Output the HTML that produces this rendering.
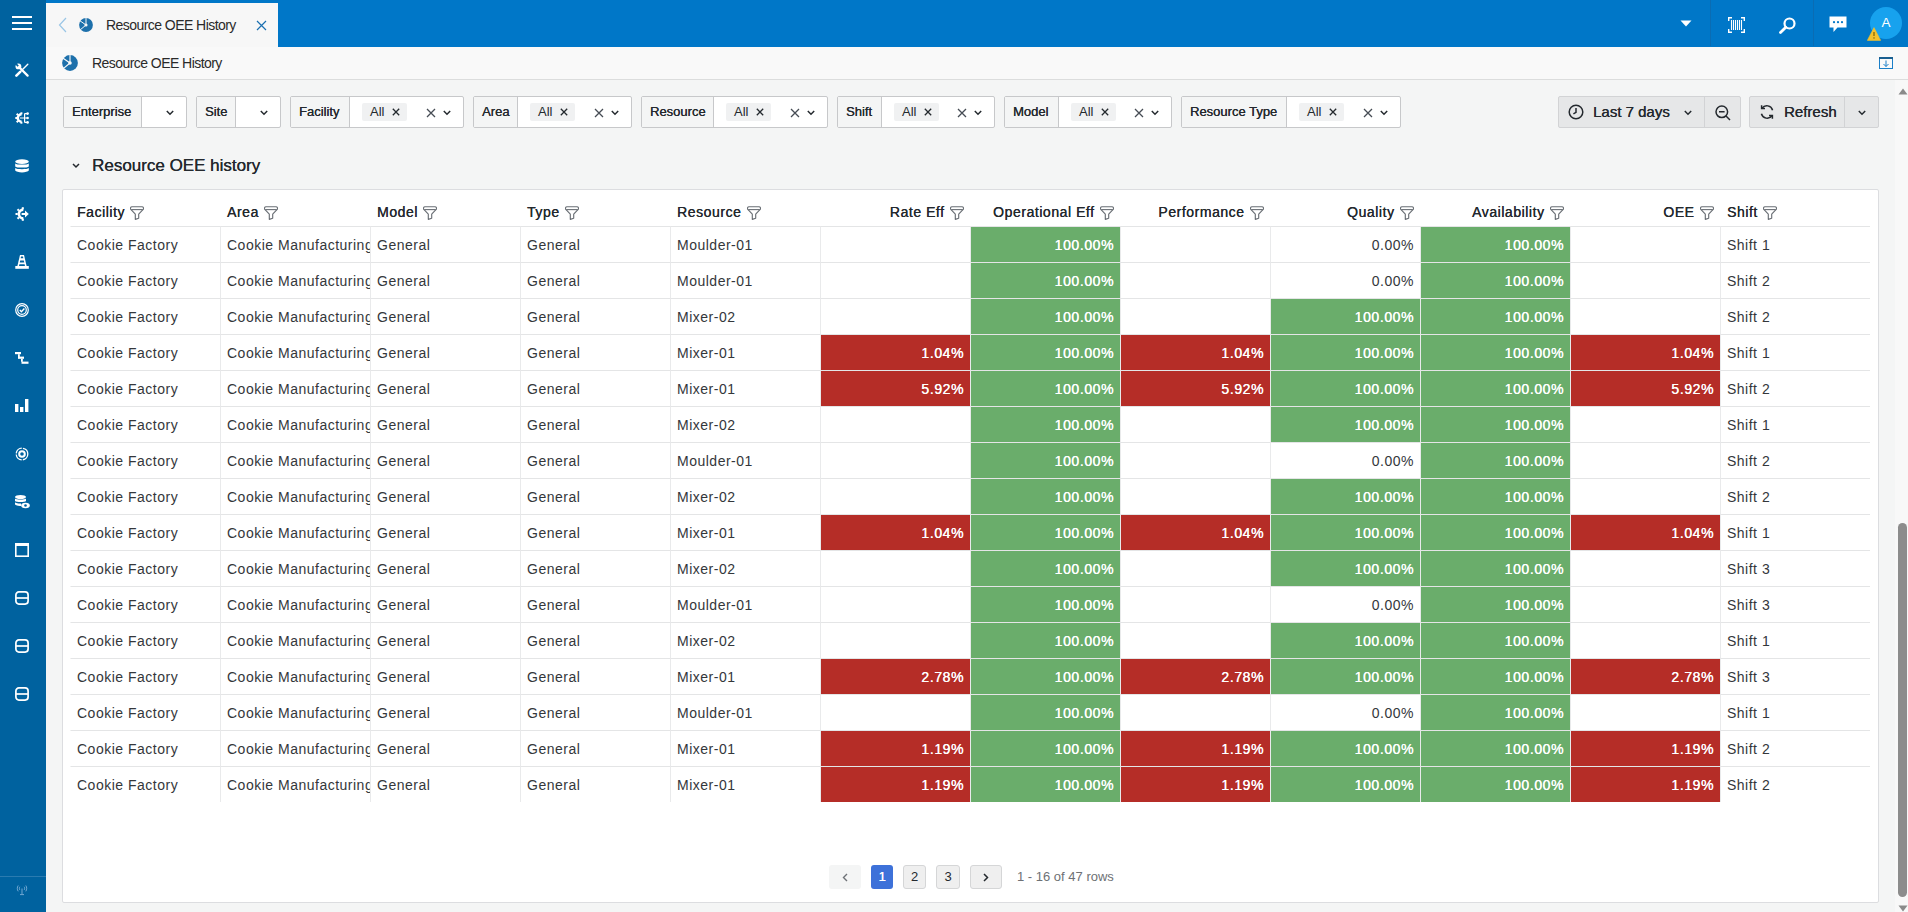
<!DOCTYPE html>
<html><head><meta charset="utf-8">
<style>
*{box-sizing:border-box;}
html,body{margin:0;padding:0;}
body{width:1908px;height:912px;overflow:hidden;position:relative;background:#f4f5f5;font-family:"Liberation Sans",sans-serif;color:#24292e;}
.abs{position:absolute;}
svg{display:block;}
#topbar{left:0;top:0;width:1908px;height:47px;background:#0077c8;}
#sidebar{left:0;top:0;width:46px;height:912px;background:#00629f;}
#tab{left:46px;top:3px;width:232px;height:44px;background:#f7f7f7;}
#crumb{left:46px;top:47px;width:1862px;height:33px;background:#f9f9f9;border-bottom:1px solid #dcdddd;}
#vscroll{left:1895px;top:80px;width:13px;height:832px;background:#f8f8f8;}
.ic{position:absolute;}
.txt{position:absolute;white-space:nowrap;}
/* filters */
.fbox{position:absolute;top:96px;height:32px;border:1px solid #c7c8ca;border-radius:2px;background:#fff;}
.flab{position:absolute;left:0;top:0;height:30px;background:#f4f5f5;border-right:1px solid #c7c8ca;font-size:13px;line-height:29px;padding:0 0 0 8px;white-space:nowrap;color:#24292e;text-shadow:0.15px 0 0 #24292e;}
.chip{position:absolute;top:6px;width:45px;height:18px;background:#f0f1f2;border-radius:2px;font-size:13px;line-height:18px;padding-left:8px;color:#24292e;}
.btn{position:absolute;top:96px;height:32px;background:#e6e7e8;border:1px solid #d2d3d5;border-radius:2px;}
#panel{left:62px;top:189px;width:1817px;height:714px;background:#fff;border:1px solid #dcdde0;border-radius:2px;}
#tbl{left:70px;top:190px;width:1800px;height:612px;}
.th{position:absolute;top:0;width:150px;height:36px;padding:0 6px 0 7px;font-size:14px;line-height:44px;letter-spacing:0.55px;text-shadow:0.2px 0 0 #24292e;color:#24292e;white-space:nowrap;display:flex;}
.th.r{justify-content:flex-end;}
.th .fil{margin:16px 0 0 5.5px;}
.td{position:absolute;width:150px;height:36px;border-top:1px solid #e4e5e6;border-left:1px solid #e9eaeb;padding:0 6px;font-size:14px;line-height:37px;letter-spacing:0.5px;color:#34373b;white-space:nowrap;overflow:hidden;}
.td.r{text-align:right;}
.td.c0{border-left-color:transparent;}
.td.g{background:#6aad6b;color:#fff;letter-spacing:0.6px;text-shadow:0.3px 0 0 #fff;}
.td.rd{background:#b52d27;color:#fff;letter-spacing:0.6px;text-shadow:0.3px 0 0 #fff;}
</style></head>
<body>
<div id="topbar" class="abs"></div>
<div id="sidebar" class="abs"></div>
<!-- sidebar icons -->
<svg class="ic" style="left:12px;top:16px" width="20" height="15" viewBox="0 0 20 15"><rect x="0" y="0" width="20" height="2" fill="#fff"/><rect x="0" y="6" width="20" height="2" fill="#fff"/><rect x="0" y="12" width="20" height="2" fill="#fff"/></svg>
<svg class="ic" style="left:15px;top:63px" width="14" height="14" viewBox="0 0 14 14" fill="none" stroke="#fff" stroke-linecap="round"><path d="M4 4L12.6 12.6" stroke-width="2.2"/><circle cx="3.4" cy="3.4" r="2.9" fill="#fff" stroke="none"/><path d="M0 0L3.2 3.2" stroke="#00629f" stroke-width="1.7" stroke-linecap="butt"/><path d="M1.4 12.6L5.2 8.8" stroke-width="2.6"/><path d="M5.5 8.5L12.8 1.3" stroke-width="1.4"/></svg>
<svg class="ic" style="left:15px;top:112px" width="14" height="12" viewBox="0 0 14 12"><path d="M6.6 2.2A3.8 3.8 0 0 0 6.6 9.8" fill="none" stroke="#fff" stroke-width="2.6"/><rect x="5.4" y="0.3" width="2" height="2" fill="#fff"/><rect x="5.4" y="9.7" width="2" height="2" fill="#fff"/><rect x="0.3" y="5" width="2" height="2" fill="#fff"/><rect x="1.4" y="1.4" width="2" height="2" fill="#fff" transform="rotate(45 2.4 2.4)"/><rect x="1.4" y="8.6" width="2" height="2" fill="#fff" transform="rotate(45 2.4 9.6)"/><path d="M5 6H12.5M9.6 1.6V10.4M9.6 1.6H12.5M9.6 10.4H12.5" fill="none" stroke="#fff" stroke-width="1.2"/><circle cx="12.6" cy="1.6" r="1.3" fill="#fff"/><circle cx="12.6" cy="6" r="1.3" fill="#fff"/><circle cx="12.6" cy="10.4" r="1.3" fill="#fff"/></svg>
<svg class="ic" style="left:15px;top:159px" width="14" height="14" viewBox="0 0 14 14" fill="#fff"><ellipse cx="7" cy="2.6" rx="6.8" ry="2.4"/><path d="M0.2 4.4c1.2 1.6 12.4 1.6 13.6 0v3c-1.2 1.6-12.4 1.6-13.6 0z"/><path d="M0.2 9c1.2 1.6 12.4 1.6 13.6 0v2.6c-1.2 2.4-12.4 2.4-13.6 0z"/></svg>
<svg class="ic" style="left:15px;top:207px" width="14" height="14" viewBox="0 0 14 14"><path d="M8.3 2.6A4.4 4.4 0 0 0 8.3 11.4" fill="none" stroke="#fff" stroke-width="2.6"/><rect x="6.8" y="0.2" width="2" height="2.2" fill="#fff"/><rect x="6.8" y="11.6" width="2" height="2.2" fill="#fff"/><rect x="0.5" y="6" width="2.2" height="2" fill="#fff"/><rect x="2.2" y="1.9" width="2" height="2" fill="#fff" transform="rotate(45 3.2 2.9)"/><rect x="2.2" y="10.1" width="2" height="2" fill="#fff" transform="rotate(45 3.2 11.1)"/><path d="M6.6 7H11" stroke="#fff" stroke-width="2"/><path d="M10 3.6L13.8 7 10 10.4z" fill="#fff"/></svg>
<svg class="ic" style="left:15px;top:255px" width="14" height="14" viewBox="0 0 14 14"><path d="M5 0H9L11.6 11H2.4z" fill="#fff"/><rect x="0.3" y="11" width="13.5" height="2.8" fill="#fff"/><path d="M6 1.6H8L8.35 3.2H5.65zM5.2 5.4H8.8L9.25 7.4H4.75zM4.4 9.2H9.6L10 11H4z" fill="#00629f"/></svg>
<svg class="ic" style="left:15px;top:303px" width="14" height="14" viewBox="0 0 14 14" fill="none" stroke="#fff"><circle cx="7" cy="7" r="6.3" stroke-width="1.2"/><circle cx="7" cy="7" r="4.3" stroke-width="1.2"/><path d="M4.8 7l1.6 1.7 3-3.2" stroke-width="1.4"/></svg>
<svg class="ic" style="left:15px;top:352px" width="14" height="12" viewBox="0 0 14 12" fill="#fff"><rect x="0" y="0" width="6" height="2.2"/><rect x="3" y="2.2" width="1.8" height="4"/><rect x="3" y="4.6" width="6" height="2.2"/><rect x="6" y="6.8" width="1.8" height="3"/><rect x="6.5" y="9.6" width="7" height="2.2"/></svg>
<svg class="ic" style="left:15px;top:399px" width="14" height="13" viewBox="0 0 14 13" fill="#fff"><rect x="0" y="5" width="3.4" height="8"/><rect x="5" y="8" width="3.4" height="5"/><rect x="10" y="0" width="3.4" height="13"/></svg>
<svg class="ic" style="left:15px;top:447px" width="14" height="14" viewBox="0 0 14 14" fill="none" stroke="#fff"><circle cx="7" cy="7" r="5.8" stroke-width="1.3" stroke-dasharray="8 1.2"/><circle cx="7" cy="7" r="2.8" stroke-width="2"/></svg>
<svg class="ic" style="left:15px;top:495px" width="15" height="14" viewBox="0 0 15 14" fill="#fff"><ellipse cx="5.5" cy="2" rx="5.5" ry="2"/><path d="M0 3.4c1 1.3 10 1.3 11 0v2.5c-1 1.3-10 1.3-11 0z"/><path d="M0 7.2c1 1.3 6 1.3 6 1.3v2.6c-1 0-5-.3-6-1.5z"/><ellipse cx="10.5" cy="10.5" rx="4.3" ry="2.8" fill="#fff"/><circle cx="10.5" cy="10.5" r="1.3" fill="#00629f"/></svg>
<svg class="ic" style="left:15px;top:543px" width="14" height="14" viewBox="0 0 14 14"><rect x="0.8" y="0.8" width="12.4" height="12.4" fill="none" stroke="#fff" stroke-width="1.6"/><rect x="0" y="0" width="14" height="3" fill="#fff"/></svg>
<svg class="ic" style="left:15px;top:591px" width="14" height="14" viewBox="0 0 14 14" fill="none" stroke="#fff" stroke-width="1.7"><rect x="0.9" y="0.9" width="12.2" height="12.2" rx="3"/><path d="M1 7h12"/></svg>
<svg class="ic" style="left:15px;top:639px" width="14" height="14" viewBox="0 0 14 14" fill="none" stroke="#fff" stroke-width="1.7"><rect x="0.9" y="0.9" width="12.2" height="12.2" rx="3"/><path d="M1 7h12"/></svg>
<svg class="ic" style="left:15px;top:687px" width="14" height="14" viewBox="0 0 14 14" fill="none" stroke="#fff" stroke-width="1.7"><rect x="0.9" y="0.9" width="12.2" height="12.2" rx="3"/><path d="M1 7h12"/></svg>
<div class="abs" style="left:0;top:876px;width:46px;height:1px;background:#2a7bb0"></div>
<svg class="ic" style="left:16px;top:884px" width="12" height="12" viewBox="0 0 12 12" fill="none" stroke="#7fb0d8" stroke-width="0.9"><path d="M2.2 1.5c-1.2 1.8-1.2 4 0 5.8M9.8 1.5c1.2 1.8 1.2 4 0 5.8M3.8 2.8c-.6 1-.6 2.2 0 3.2M8.2 2.8c.6 1 .6 2.2 0 3.2M6 4.5v5.5M4 10.6h4" /></svg>
<!-- tab -->
<div id="tab" class="abs"></div>
<svg class="ic" style="left:58px;top:17px" width="9" height="16" viewBox="0 0 9 16"><path d="M8 1L1.5 8 8 15" fill="none" stroke="#9ac6e6" stroke-width="1.2"/></svg>
<svg class="ic" style="left:79px;top:18px" width="14" height="14" viewBox="0 0 14 14"><circle cx="7.0" cy="7.0" r="6.90" fill="#1d70ab"/><path d="M7.00 7.00L7.00 -0.40M7.00 7.00L0.94 2.76M7.00 7.00L1.33 11.76" stroke="#f7f7f7" stroke-width="1.00"/><circle cx="7.0" cy="7.0" r="1.56" fill="#f7f7f7"/></svg>
<div class="txt" style="left:106px;top:16px;font-size:14px;line-height:18px;letter-spacing:-0.55px;color:#2a2a2a">Resource OEE History</div>
<svg class="ic" style="left:256px;top:20px" width="11" height="11" viewBox="0 0 11 11"><path d="M1 1l9 9M10 1L1 10" stroke="#1a6fb0" stroke-width="1.2"/></svg>
<!-- topbar right icons -->
<svg class="ic" style="left:1680px;top:20px" width="12" height="7" viewBox="0 0 12 7"><path d="M0.5 0.5h11L6 6.5z" fill="#fff"/></svg>
<div class="abs" style="left:1710px;top:0;width:1px;height:46px;background:#0a6cb3"></div>
<svg class="ic" style="left:1728px;top:17px" width="17" height="16" viewBox="0 0 17 16" fill="none" stroke="#fff"><path d="M0.7 4V0.7H4M13 0.7h3.3V4M16.3 12v3.3H13M4 15.3H0.7V12" stroke-width="1.4"/><path d="M3.5 3v10M5.5 3v10M7.5 3v10M9.5 3v10M11.5 3v10M13.5 3v10" stroke-width="1.1"/></svg>
<svg class="ic" style="left:1779px;top:17px" width="17" height="17" viewBox="0 0 17 17" fill="none" stroke="#fff"><circle cx="10.5" cy="6.5" r="5" stroke-width="2.2"/><path d="M6.8 10.2L1.5 15.5" stroke-width="2.8" stroke-linecap="round"/></svg>
<div class="abs" style="left:1813px;top:0;width:1px;height:46px;background:#0a6cb3"></div>
<svg class="ic" style="left:1829px;top:16px" width="18" height="17" viewBox="0 0 18 17"><path d="M0.5 0.5h17v11h-9l-4 4.5v-4.5h-4z" fill="#fff"/><circle cx="5" cy="6.2" r="1.1" fill="#0077c8"/><circle cx="9" cy="6.2" r="1.1" fill="#0077c8"/><circle cx="13" cy="6.2" r="1.1" fill="#0077c8"/></svg>
<div class="abs" style="left:1870px;top:7px;width:32px;height:32px;border-radius:50%;background:#17a2ee"></div>
<div class="txt" style="left:1870px;top:15px;width:32px;text-align:center;font-size:13.5px;line-height:16px;color:#fff">A</div>
<svg class="ic" style="left:1867px;top:27px" width="14" height="14" viewBox="0 0 14 14"><path d="M7 0.6L13.7 13.4H0.3z" fill="#f2c12e" stroke="#f2c12e" stroke-width="0.6" stroke-linejoin="round"/><path d="M7 5v4" stroke="#7a6000" stroke-width="1.2"/><rect x="6.4" y="10.3" width="1.2" height="1.3" fill="#7a6000"/></svg>
<!-- breadcrumb -->
<div id="crumb" class="abs"></div>
<svg class="ic" style="left:62px;top:55px" width="16" height="16" viewBox="0 0 16 16"><circle cx="8.0" cy="8.0" r="7.90" fill="#1d70ab"/><path d="M8.00 8.00L8.00 -0.40M8.00 8.00L1.12 3.18M8.00 8.00L1.57 13.40" stroke="#f9f9f9" stroke-width="1.14"/><circle cx="8.0" cy="8.0" r="1.78" fill="#f9f9f9"/></svg>
<div class="txt" style="left:92px;top:54px;font-size:14px;line-height:18px;letter-spacing:-0.55px;color:#2a2a2a">Resource OEE History</div>
<svg class="ic" style="left:1879px;top:57px" width="14" height="12" viewBox="0 0 14 12"><rect x="0.5" y="0.5" width="13" height="11" fill="none" stroke="#1a7fc8" stroke-width="1"/><rect x="0" y="0" width="14" height="2" fill="#1a5f90"/><path d="M7 3.5v6M4.5 7l2.5 2.5L9.5 7" fill="none" stroke="#1a7fc8" stroke-width="1"/></svg>
<div id="vscroll" class="abs"></div>
<svg class="ic" style="left:1898px;top:88px" width="10" height="7" viewBox="0 0 10 7"><path d="M5 0.5L9.5 6.5H0.5z" fill="#8a8a8a"/></svg>
<div class="abs" style="left:1898px;top:523px;width:9px;height:374px;border-radius:4.5px;background:#8c8c8c"></div>
<svg class="ic" style="left:1898px;top:905px" width="10" height="7" viewBox="0 0 10 7"><path d="M0.5 0.5h9L5 6.5z" fill="#8a8a8a"/></svg>
<!-- panel -->
<svg class="ic" style="left:72px;top:163px" width="8" height="6" viewBox="0 0 8 6"><path d="M1 1l3 3 3-3" fill="none" stroke="#24292e" stroke-width="1.5"/></svg>
<div class="txt" style="left:92px;top:156px;font-size:17px;line-height:20px;color:#24292e;text-shadow:0.15px 0 0 #24292e">Resource OEE history</div>
<div id="panel" class="abs"></div>
<div class="fbox" style="left:63px;width:124px"><div class="flab" style="width:78px">Enterprise</div>
</div>
<svg class="ic" style="left:166px;top:110px" width="8" height="6" viewBox="0 0 8 6"><path d="M0.8 1L4 4.2 7.2 1" fill="none" stroke="#24292e" stroke-width="1.5"/></svg>
<div class="fbox" style="left:196px;width:85px"><div class="flab" style="width:39px">Site</div>
</div>
<svg class="ic" style="left:260px;top:110px" width="8" height="6" viewBox="0 0 8 6"><path d="M0.8 1L4 4.2 7.2 1" fill="none" stroke="#24292e" stroke-width="1.5"/></svg>
<div class="fbox" style="left:290px;width:174px"><div class="flab" style="width:59px">Facility</div>
<div class="chip" style="left:71px">All</div>
</div>
<svg class="ic" style="left:392px;top:108px" width="8" height="8" viewBox="0 0 8 8"><path d="M0.8 0.8l6.4 6.4M7.2 0.8L0.8 7.2" stroke="#24292e" stroke-width="1.3"/></svg>
<svg class="ic" style="left:426px;top:108px" width="10" height="10" viewBox="0 0 10 10"><path d="M1 1l8 8M9 1L1 9" stroke="#464c54" stroke-width="1.3"/></svg>
<svg class="ic" style="left:443px;top:110px" width="8" height="6" viewBox="0 0 8 6"><path d="M0.8 1L4 4.2 7.2 1" fill="none" stroke="#24292e" stroke-width="1.5"/></svg>
<div class="fbox" style="left:473px;width:159px"><div class="flab" style="width:44px">Area</div>
<div class="chip" style="left:56px">All</div>
</div>
<svg class="ic" style="left:560px;top:108px" width="8" height="8" viewBox="0 0 8 8"><path d="M0.8 0.8l6.4 6.4M7.2 0.8L0.8 7.2" stroke="#24292e" stroke-width="1.3"/></svg>
<svg class="ic" style="left:594px;top:108px" width="10" height="10" viewBox="0 0 10 10"><path d="M1 1l8 8M9 1L1 9" stroke="#464c54" stroke-width="1.3"/></svg>
<svg class="ic" style="left:611px;top:110px" width="8" height="6" viewBox="0 0 8 6"><path d="M0.8 1L4 4.2 7.2 1" fill="none" stroke="#24292e" stroke-width="1.5"/></svg>
<div class="fbox" style="left:641px;width:187px"><div class="flab" style="width:72px">Resource</div>
<div class="chip" style="left:84px">All</div>
</div>
<svg class="ic" style="left:756px;top:108px" width="8" height="8" viewBox="0 0 8 8"><path d="M0.8 0.8l6.4 6.4M7.2 0.8L0.8 7.2" stroke="#24292e" stroke-width="1.3"/></svg>
<svg class="ic" style="left:790px;top:108px" width="10" height="10" viewBox="0 0 10 10"><path d="M1 1l8 8M9 1L1 9" stroke="#464c54" stroke-width="1.3"/></svg>
<svg class="ic" style="left:807px;top:110px" width="8" height="6" viewBox="0 0 8 6"><path d="M0.8 1L4 4.2 7.2 1" fill="none" stroke="#24292e" stroke-width="1.5"/></svg>
<div class="fbox" style="left:837px;width:158px"><div class="flab" style="width:44px">Shift</div>
<div class="chip" style="left:56px">All</div>
</div>
<svg class="ic" style="left:924px;top:108px" width="8" height="8" viewBox="0 0 8 8"><path d="M0.8 0.8l6.4 6.4M7.2 0.8L0.8 7.2" stroke="#24292e" stroke-width="1.3"/></svg>
<svg class="ic" style="left:957px;top:108px" width="10" height="10" viewBox="0 0 10 10"><path d="M1 1l8 8M9 1L1 9" stroke="#464c54" stroke-width="1.3"/></svg>
<svg class="ic" style="left:974px;top:110px" width="8" height="6" viewBox="0 0 8 6"><path d="M0.8 1L4 4.2 7.2 1" fill="none" stroke="#24292e" stroke-width="1.5"/></svg>
<div class="fbox" style="left:1004px;width:168px"><div class="flab" style="width:54px">Model</div>
<div class="chip" style="left:66px">All</div>
</div>
<svg class="ic" style="left:1101px;top:108px" width="8" height="8" viewBox="0 0 8 8"><path d="M0.8 0.8l6.4 6.4M7.2 0.8L0.8 7.2" stroke="#24292e" stroke-width="1.3"/></svg>
<svg class="ic" style="left:1134px;top:108px" width="10" height="10" viewBox="0 0 10 10"><path d="M1 1l8 8M9 1L1 9" stroke="#464c54" stroke-width="1.3"/></svg>
<svg class="ic" style="left:1151px;top:110px" width="8" height="6" viewBox="0 0 8 6"><path d="M0.8 1L4 4.2 7.2 1" fill="none" stroke="#24292e" stroke-width="1.5"/></svg>
<div class="fbox" style="left:1181px;width:220px"><div class="flab" style="width:105px">Resource Type</div>
<div class="chip" style="left:117px">All</div>
</div>
<svg class="ic" style="left:1329px;top:108px" width="8" height="8" viewBox="0 0 8 8"><path d="M0.8 0.8l6.4 6.4M7.2 0.8L0.8 7.2" stroke="#24292e" stroke-width="1.3"/></svg>
<svg class="ic" style="left:1363px;top:108px" width="10" height="10" viewBox="0 0 10 10"><path d="M1 1l8 8M9 1L1 9" stroke="#464c54" stroke-width="1.3"/></svg>
<svg class="ic" style="left:1380px;top:110px" width="8" height="6" viewBox="0 0 8 6"><path d="M0.8 1L4 4.2 7.2 1" fill="none" stroke="#24292e" stroke-width="1.5"/></svg>
<div class="btn" style="left:1558px;width:183px"></div>
<div class="abs" style="left:1704px;top:97px;width:1px;height:30px;background:#d2d3d5"></div>
<svg class="ic" style="left:1568px;top:104px" width="16" height="16" viewBox="0 0 16 16" fill="none" stroke="#24292e" stroke-width="1.5"><circle cx="8" cy="8" r="6.8"/><path d="M8 4v4.3l-2.6 1.5"/></svg>
<div class="txt" style="left:1593px;top:97px;font-size:15px;line-height:30px;color:#24292e;text-shadow:0.2px 0 0 #24292e">Last 7 days</div>
<svg class="ic" style="left:1684px;top:110px" width="8" height="6" viewBox="0 0 8 6"><path d="M0.8 1L4 4.2 7.2 1" fill="none" stroke="#24292e" stroke-width="1.5"/></svg>
<svg class="ic" style="left:1715px;top:105px" width="16" height="16" viewBox="0 0 16 16" fill="none" stroke="#24292e" stroke-width="1.5"><circle cx="6.8" cy="6.8" r="5.8"/><path d="M4 6.8h5.6M11 11l4 4"/></svg>
<div class="btn" style="left:1749px;width:130px"></div>
<div class="abs" style="left:1844px;top:97px;width:1px;height:30px;background:#d2d3d5"></div>
<svg class="ic" style="left:1759px;top:104px" width="16" height="16" viewBox="0 0 16 16" fill="none" stroke="#24292e" stroke-width="1.5"><path d="M13.6 6.2A6 6 0 0 0 3 4.2M2.4 9.8A6 6 0 0 0 13 11.8"/><path d="M2.6 1.2v3.4H6M13.4 14.8v-3.4H10"/></svg>
<div class="txt" style="left:1784px;top:97px;font-size:15px;line-height:30px;color:#24292e;text-shadow:0.2px 0 0 #24292e">Refresh</div>
<svg class="ic" style="left:1858px;top:110px" width="8" height="6" viewBox="0 0 8 6"><path d="M0.8 1L4 4.2 7.2 1" fill="none" stroke="#24292e" stroke-width="1.5"/></svg>
<div id="tbl" class="abs"><div class="th" style="left:0px">Facility<svg class="fil" width="14" height="14" viewBox="0 0 14 14"><path d="M2 0.75H12A1.6 1.6 0 0 1 13.2 3.4L8.7 8.2V12.3L5.3 13.4V8.2L0.8 3.4A1.6 1.6 0 0 1 2 0.75Z" fill="none" stroke="#6a6f75" stroke-width="1.15" stroke-linejoin="round"/><path d="M1.2 3.6H12.8" stroke="#6a6f75" stroke-width="1.1"/></svg></div><div class="th" style="left:150px">Area<svg class="fil" width="14" height="14" viewBox="0 0 14 14"><path d="M2 0.75H12A1.6 1.6 0 0 1 13.2 3.4L8.7 8.2V12.3L5.3 13.4V8.2L0.8 3.4A1.6 1.6 0 0 1 2 0.75Z" fill="none" stroke="#6a6f75" stroke-width="1.15" stroke-linejoin="round"/><path d="M1.2 3.6H12.8" stroke="#6a6f75" stroke-width="1.1"/></svg></div><div class="th" style="left:300px">Model<svg class="fil" width="14" height="14" viewBox="0 0 14 14"><path d="M2 0.75H12A1.6 1.6 0 0 1 13.2 3.4L8.7 8.2V12.3L5.3 13.4V8.2L0.8 3.4A1.6 1.6 0 0 1 2 0.75Z" fill="none" stroke="#6a6f75" stroke-width="1.15" stroke-linejoin="round"/><path d="M1.2 3.6H12.8" stroke="#6a6f75" stroke-width="1.1"/></svg></div><div class="th" style="left:450px">Type<svg class="fil" width="14" height="14" viewBox="0 0 14 14"><path d="M2 0.75H12A1.6 1.6 0 0 1 13.2 3.4L8.7 8.2V12.3L5.3 13.4V8.2L0.8 3.4A1.6 1.6 0 0 1 2 0.75Z" fill="none" stroke="#6a6f75" stroke-width="1.15" stroke-linejoin="round"/><path d="M1.2 3.6H12.8" stroke="#6a6f75" stroke-width="1.1"/></svg></div><div class="th" style="left:600px">Resource<svg class="fil" width="14" height="14" viewBox="0 0 14 14"><path d="M2 0.75H12A1.6 1.6 0 0 1 13.2 3.4L8.7 8.2V12.3L5.3 13.4V8.2L0.8 3.4A1.6 1.6 0 0 1 2 0.75Z" fill="none" stroke="#6a6f75" stroke-width="1.15" stroke-linejoin="round"/><path d="M1.2 3.6H12.8" stroke="#6a6f75" stroke-width="1.1"/></svg></div><div class="th r" style="left:750px">Rate Eff<svg class="fil" width="14" height="14" viewBox="0 0 14 14"><path d="M2 0.75H12A1.6 1.6 0 0 1 13.2 3.4L8.7 8.2V12.3L5.3 13.4V8.2L0.8 3.4A1.6 1.6 0 0 1 2 0.75Z" fill="none" stroke="#6a6f75" stroke-width="1.15" stroke-linejoin="round"/><path d="M1.2 3.6H12.8" stroke="#6a6f75" stroke-width="1.1"/></svg></div><div class="th r" style="left:900px">Operational Eff<svg class="fil" width="14" height="14" viewBox="0 0 14 14"><path d="M2 0.75H12A1.6 1.6 0 0 1 13.2 3.4L8.7 8.2V12.3L5.3 13.4V8.2L0.8 3.4A1.6 1.6 0 0 1 2 0.75Z" fill="none" stroke="#6a6f75" stroke-width="1.15" stroke-linejoin="round"/><path d="M1.2 3.6H12.8" stroke="#6a6f75" stroke-width="1.1"/></svg></div><div class="th r" style="left:1050px">Performance<svg class="fil" width="14" height="14" viewBox="0 0 14 14"><path d="M2 0.75H12A1.6 1.6 0 0 1 13.2 3.4L8.7 8.2V12.3L5.3 13.4V8.2L0.8 3.4A1.6 1.6 0 0 1 2 0.75Z" fill="none" stroke="#6a6f75" stroke-width="1.15" stroke-linejoin="round"/><path d="M1.2 3.6H12.8" stroke="#6a6f75" stroke-width="1.1"/></svg></div><div class="th r" style="left:1200px">Quality<svg class="fil" width="14" height="14" viewBox="0 0 14 14"><path d="M2 0.75H12A1.6 1.6 0 0 1 13.2 3.4L8.7 8.2V12.3L5.3 13.4V8.2L0.8 3.4A1.6 1.6 0 0 1 2 0.75Z" fill="none" stroke="#6a6f75" stroke-width="1.15" stroke-linejoin="round"/><path d="M1.2 3.6H12.8" stroke="#6a6f75" stroke-width="1.1"/></svg></div><div class="th r" style="left:1350px">Availability<svg class="fil" width="14" height="14" viewBox="0 0 14 14"><path d="M2 0.75H12A1.6 1.6 0 0 1 13.2 3.4L8.7 8.2V12.3L5.3 13.4V8.2L0.8 3.4A1.6 1.6 0 0 1 2 0.75Z" fill="none" stroke="#6a6f75" stroke-width="1.15" stroke-linejoin="round"/><path d="M1.2 3.6H12.8" stroke="#6a6f75" stroke-width="1.1"/></svg></div><div class="th r" style="left:1500px">OEE<svg class="fil" width="14" height="14" viewBox="0 0 14 14"><path d="M2 0.75H12A1.6 1.6 0 0 1 13.2 3.4L8.7 8.2V12.3L5.3 13.4V8.2L0.8 3.4A1.6 1.6 0 0 1 2 0.75Z" fill="none" stroke="#6a6f75" stroke-width="1.15" stroke-linejoin="round"/><path d="M1.2 3.6H12.8" stroke="#6a6f75" stroke-width="1.1"/></svg></div><div class="th" style="left:1650px">Shift<svg class="fil" width="14" height="14" viewBox="0 0 14 14"><path d="M2 0.75H12A1.6 1.6 0 0 1 13.2 3.4L8.7 8.2V12.3L5.3 13.4V8.2L0.8 3.4A1.6 1.6 0 0 1 2 0.75Z" fill="none" stroke="#6a6f75" stroke-width="1.15" stroke-linejoin="round"/><path d="M1.2 3.6H12.8" stroke="#6a6f75" stroke-width="1.1"/></svg></div><div class="td c0" style="left:0px;top:36px">Cookie Factory</div><div class="td" style="left:150px;top:36px">Cookie Manufacturing</div><div class="td" style="left:300px;top:36px">General</div><div class="td" style="left:450px;top:36px">General</div><div class="td" style="left:600px;top:36px">Moulder-01</div><div class="td r" style="left:750px;top:36px"></div><div class="td r g" style="left:900px;top:36px">100.00%</div><div class="td r" style="left:1050px;top:36px"></div><div class="td r" style="left:1200px;top:36px">0.00%</div><div class="td r g" style="left:1350px;top:36px">100.00%</div><div class="td r" style="left:1500px;top:36px"></div><div class="td" style="left:1650px;top:36px">Shift 1</div><div class="td c0" style="left:0px;top:72px">Cookie Factory</div><div class="td" style="left:150px;top:72px">Cookie Manufacturing</div><div class="td" style="left:300px;top:72px">General</div><div class="td" style="left:450px;top:72px">General</div><div class="td" style="left:600px;top:72px">Moulder-01</div><div class="td r" style="left:750px;top:72px"></div><div class="td r g" style="left:900px;top:72px">100.00%</div><div class="td r" style="left:1050px;top:72px"></div><div class="td r" style="left:1200px;top:72px">0.00%</div><div class="td r g" style="left:1350px;top:72px">100.00%</div><div class="td r" style="left:1500px;top:72px"></div><div class="td" style="left:1650px;top:72px">Shift 2</div><div class="td c0" style="left:0px;top:108px">Cookie Factory</div><div class="td" style="left:150px;top:108px">Cookie Manufacturing</div><div class="td" style="left:300px;top:108px">General</div><div class="td" style="left:450px;top:108px">General</div><div class="td" style="left:600px;top:108px">Mixer-02</div><div class="td r" style="left:750px;top:108px"></div><div class="td r g" style="left:900px;top:108px">100.00%</div><div class="td r" style="left:1050px;top:108px"></div><div class="td r g" style="left:1200px;top:108px">100.00%</div><div class="td r g" style="left:1350px;top:108px">100.00%</div><div class="td r" style="left:1500px;top:108px"></div><div class="td" style="left:1650px;top:108px">Shift 2</div><div class="td c0" style="left:0px;top:144px">Cookie Factory</div><div class="td" style="left:150px;top:144px">Cookie Manufacturing</div><div class="td" style="left:300px;top:144px">General</div><div class="td" style="left:450px;top:144px">General</div><div class="td" style="left:600px;top:144px">Mixer-01</div><div class="td r rd" style="left:750px;top:144px">1.04%</div><div class="td r g" style="left:900px;top:144px">100.00%</div><div class="td r rd" style="left:1050px;top:144px">1.04%</div><div class="td r g" style="left:1200px;top:144px">100.00%</div><div class="td r g" style="left:1350px;top:144px">100.00%</div><div class="td r rd" style="left:1500px;top:144px">1.04%</div><div class="td" style="left:1650px;top:144px">Shift 1</div><div class="td c0" style="left:0px;top:180px">Cookie Factory</div><div class="td" style="left:150px;top:180px">Cookie Manufacturing</div><div class="td" style="left:300px;top:180px">General</div><div class="td" style="left:450px;top:180px">General</div><div class="td" style="left:600px;top:180px">Mixer-01</div><div class="td r rd" style="left:750px;top:180px">5.92%</div><div class="td r g" style="left:900px;top:180px">100.00%</div><div class="td r rd" style="left:1050px;top:180px">5.92%</div><div class="td r g" style="left:1200px;top:180px">100.00%</div><div class="td r g" style="left:1350px;top:180px">100.00%</div><div class="td r rd" style="left:1500px;top:180px">5.92%</div><div class="td" style="left:1650px;top:180px">Shift 2</div><div class="td c0" style="left:0px;top:216px">Cookie Factory</div><div class="td" style="left:150px;top:216px">Cookie Manufacturing</div><div class="td" style="left:300px;top:216px">General</div><div class="td" style="left:450px;top:216px">General</div><div class="td" style="left:600px;top:216px">Mixer-02</div><div class="td r" style="left:750px;top:216px"></div><div class="td r g" style="left:900px;top:216px">100.00%</div><div class="td r" style="left:1050px;top:216px"></div><div class="td r g" style="left:1200px;top:216px">100.00%</div><div class="td r g" style="left:1350px;top:216px">100.00%</div><div class="td r" style="left:1500px;top:216px"></div><div class="td" style="left:1650px;top:216px">Shift 1</div><div class="td c0" style="left:0px;top:252px">Cookie Factory</div><div class="td" style="left:150px;top:252px">Cookie Manufacturing</div><div class="td" style="left:300px;top:252px">General</div><div class="td" style="left:450px;top:252px">General</div><div class="td" style="left:600px;top:252px">Moulder-01</div><div class="td r" style="left:750px;top:252px"></div><div class="td r g" style="left:900px;top:252px">100.00%</div><div class="td r" style="left:1050px;top:252px"></div><div class="td r" style="left:1200px;top:252px">0.00%</div><div class="td r g" style="left:1350px;top:252px">100.00%</div><div class="td r" style="left:1500px;top:252px"></div><div class="td" style="left:1650px;top:252px">Shift 2</div><div class="td c0" style="left:0px;top:288px">Cookie Factory</div><div class="td" style="left:150px;top:288px">Cookie Manufacturing</div><div class="td" style="left:300px;top:288px">General</div><div class="td" style="left:450px;top:288px">General</div><div class="td" style="left:600px;top:288px">Mixer-02</div><div class="td r" style="left:750px;top:288px"></div><div class="td r g" style="left:900px;top:288px">100.00%</div><div class="td r" style="left:1050px;top:288px"></div><div class="td r g" style="left:1200px;top:288px">100.00%</div><div class="td r g" style="left:1350px;top:288px">100.00%</div><div class="td r" style="left:1500px;top:288px"></div><div class="td" style="left:1650px;top:288px">Shift 2</div><div class="td c0" style="left:0px;top:324px">Cookie Factory</div><div class="td" style="left:150px;top:324px">Cookie Manufacturing</div><div class="td" style="left:300px;top:324px">General</div><div class="td" style="left:450px;top:324px">General</div><div class="td" style="left:600px;top:324px">Mixer-01</div><div class="td r rd" style="left:750px;top:324px">1.04%</div><div class="td r g" style="left:900px;top:324px">100.00%</div><div class="td r rd" style="left:1050px;top:324px">1.04%</div><div class="td r g" style="left:1200px;top:324px">100.00%</div><div class="td r g" style="left:1350px;top:324px">100.00%</div><div class="td r rd" style="left:1500px;top:324px">1.04%</div><div class="td" style="left:1650px;top:324px">Shift 1</div><div class="td c0" style="left:0px;top:360px">Cookie Factory</div><div class="td" style="left:150px;top:360px">Cookie Manufacturing</div><div class="td" style="left:300px;top:360px">General</div><div class="td" style="left:450px;top:360px">General</div><div class="td" style="left:600px;top:360px">Mixer-02</div><div class="td r" style="left:750px;top:360px"></div><div class="td r g" style="left:900px;top:360px">100.00%</div><div class="td r" style="left:1050px;top:360px"></div><div class="td r g" style="left:1200px;top:360px">100.00%</div><div class="td r g" style="left:1350px;top:360px">100.00%</div><div class="td r" style="left:1500px;top:360px"></div><div class="td" style="left:1650px;top:360px">Shift 3</div><div class="td c0" style="left:0px;top:396px">Cookie Factory</div><div class="td" style="left:150px;top:396px">Cookie Manufacturing</div><div class="td" style="left:300px;top:396px">General</div><div class="td" style="left:450px;top:396px">General</div><div class="td" style="left:600px;top:396px">Moulder-01</div><div class="td r" style="left:750px;top:396px"></div><div class="td r g" style="left:900px;top:396px">100.00%</div><div class="td r" style="left:1050px;top:396px"></div><div class="td r" style="left:1200px;top:396px">0.00%</div><div class="td r g" style="left:1350px;top:396px">100.00%</div><div class="td r" style="left:1500px;top:396px"></div><div class="td" style="left:1650px;top:396px">Shift 3</div><div class="td c0" style="left:0px;top:432px">Cookie Factory</div><div class="td" style="left:150px;top:432px">Cookie Manufacturing</div><div class="td" style="left:300px;top:432px">General</div><div class="td" style="left:450px;top:432px">General</div><div class="td" style="left:600px;top:432px">Mixer-02</div><div class="td r" style="left:750px;top:432px"></div><div class="td r g" style="left:900px;top:432px">100.00%</div><div class="td r" style="left:1050px;top:432px"></div><div class="td r g" style="left:1200px;top:432px">100.00%</div><div class="td r g" style="left:1350px;top:432px">100.00%</div><div class="td r" style="left:1500px;top:432px"></div><div class="td" style="left:1650px;top:432px">Shift 1</div><div class="td c0" style="left:0px;top:468px">Cookie Factory</div><div class="td" style="left:150px;top:468px">Cookie Manufacturing</div><div class="td" style="left:300px;top:468px">General</div><div class="td" style="left:450px;top:468px">General</div><div class="td" style="left:600px;top:468px">Mixer-01</div><div class="td r rd" style="left:750px;top:468px">2.78%</div><div class="td r g" style="left:900px;top:468px">100.00%</div><div class="td r rd" style="left:1050px;top:468px">2.78%</div><div class="td r g" style="left:1200px;top:468px">100.00%</div><div class="td r g" style="left:1350px;top:468px">100.00%</div><div class="td r rd" style="left:1500px;top:468px">2.78%</div><div class="td" style="left:1650px;top:468px">Shift 3</div><div class="td c0" style="left:0px;top:504px">Cookie Factory</div><div class="td" style="left:150px;top:504px">Cookie Manufacturing</div><div class="td" style="left:300px;top:504px">General</div><div class="td" style="left:450px;top:504px">General</div><div class="td" style="left:600px;top:504px">Moulder-01</div><div class="td r" style="left:750px;top:504px"></div><div class="td r g" style="left:900px;top:504px">100.00%</div><div class="td r" style="left:1050px;top:504px"></div><div class="td r" style="left:1200px;top:504px">0.00%</div><div class="td r g" style="left:1350px;top:504px">100.00%</div><div class="td r" style="left:1500px;top:504px"></div><div class="td" style="left:1650px;top:504px">Shift 1</div><div class="td c0" style="left:0px;top:540px">Cookie Factory</div><div class="td" style="left:150px;top:540px">Cookie Manufacturing</div><div class="td" style="left:300px;top:540px">General</div><div class="td" style="left:450px;top:540px">General</div><div class="td" style="left:600px;top:540px">Mixer-01</div><div class="td r rd" style="left:750px;top:540px">1.19%</div><div class="td r g" style="left:900px;top:540px">100.00%</div><div class="td r rd" style="left:1050px;top:540px">1.19%</div><div class="td r g" style="left:1200px;top:540px">100.00%</div><div class="td r g" style="left:1350px;top:540px">100.00%</div><div class="td r rd" style="left:1500px;top:540px">1.19%</div><div class="td" style="left:1650px;top:540px">Shift 2</div><div class="td c0" style="left:0px;top:576px">Cookie Factory</div><div class="td" style="left:150px;top:576px">Cookie Manufacturing</div><div class="td" style="left:300px;top:576px">General</div><div class="td" style="left:450px;top:576px">General</div><div class="td" style="left:600px;top:576px">Mixer-01</div><div class="td r rd" style="left:750px;top:576px">1.19%</div><div class="td r g" style="left:900px;top:576px">100.00%</div><div class="td r rd" style="left:1050px;top:576px">1.19%</div><div class="td r g" style="left:1200px;top:576px">100.00%</div><div class="td r g" style="left:1350px;top:576px">100.00%</div><div class="td r rd" style="left:1500px;top:576px">1.19%</div><div class="td" style="left:1650px;top:576px">Shift 2</div></div><div class="abs" style="left:829px;top:865px;width:32px;height:24px;background:#f4f5f5;border-radius:3px"></div>
<svg class="ic" style="left:842px;top:873px" width="6" height="9" viewBox="0 0 6 9"><path d="M5 1L1.5 4.5 5 8" fill="none" stroke="#6e7277" stroke-width="1.4"/></svg>
<div class="abs" style="left:871px;top:865px;width:22px;height:24px;background:#3d71d9;border-radius:3px;color:#fff;font-size:13px;line-height:24px;text-align:center;text-shadow:0.3px 0 0 #fff">1</div>
<div class="abs" style="left:903px;top:865px;width:23px;height:24px;background:#efefef;border:1px solid #d5d6d7;border-radius:3px;color:#24292e;font-size:13px;line-height:22px;text-align:center">2</div>
<div class="abs" style="left:936px;top:865px;width:24px;height:24px;background:#efefef;border:1px solid #d5d6d7;border-radius:3px;color:#24292e;font-size:13px;line-height:22px;text-align:center">3</div>
<div class="abs" style="left:970px;top:865px;width:32px;height:24px;background:#efefef;border:1px solid #d5d6d7;border-radius:3px"></div>
<svg class="ic" style="left:983px;top:873px" width="6" height="9" viewBox="0 0 6 9"><path d="M1 1l3.5 3.5L1 8" fill="none" stroke="#24292e" stroke-width="1.5"/></svg>
<div class="txt" style="left:1017px;top:869px;font-size:13px;line-height:16px;color:#6e7175">1 - 16 of 47 rows</div>
</body></html>
